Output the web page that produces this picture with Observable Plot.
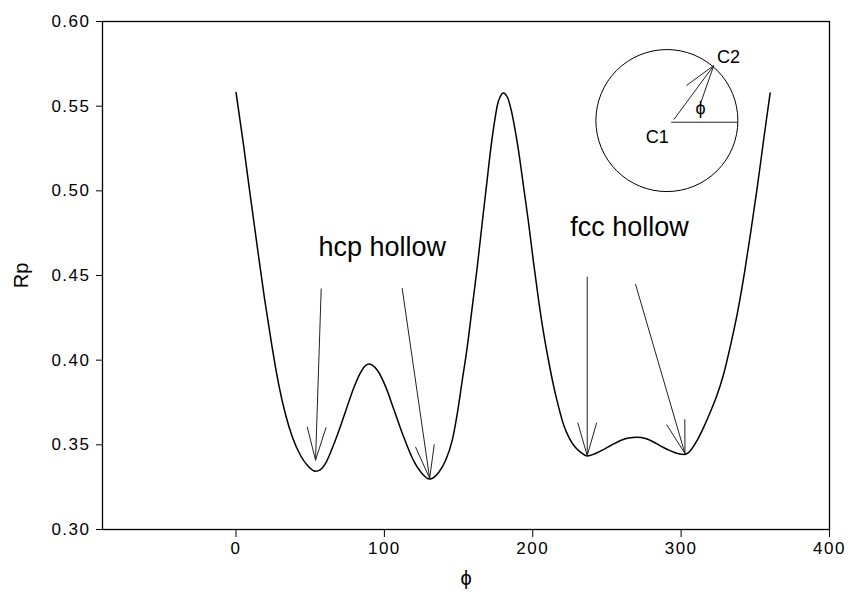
<!DOCTYPE html>
<html>
<head>
<meta charset="utf-8">
<script src="https://cdn.jsdelivr.net/npm/d3@7"></script>
<script src="https://cdn.jsdelivr.net/npm/@observablehq/plot@0.6"></script>
<style>
  html, body { margin: 0; padding: 0; background: #fff; }
  #chart svg [aria-label$="tick label"] text { letter-spacing: 1.5px; }
</style>
</head>
<body>
<div id="chart"></div>
<script>
// ---- data ----
const phi = [0, 5.05, 9.77, 14.49, 19.21, 23.93, 28.64, 33.36, 38.08, 43.47, 48.19, 53.58, 56.95, 60.32, 63.69, 68.41, 73.8, 79.19, 83.91, 86.61, 89.51, 92.0, 95.37, 100.76, 106.15, 112.89, 119.63, 125.03, 130.42, 136.69, 141.2, 145.72, 149.09, 152.46, 155.83, 159.2, 162.57, 165.94, 168.84, 171.53, 174.23, 176.25, 178.27, 180, 182.99, 185.68, 188.38, 190.4, 193.77, 197.14, 200.51, 203.88, 207.25, 210.62, 213.99, 217.36, 220.73, 224.78, 228.82, 232.86, 236.7, 242.29, 247.69, 253.08, 259.15, 264.54, 270.4, 276.0, 281.39, 286.78, 292.86, 297.57, 302.29, 306.33, 310.37, 315.09, 319.81, 323.85, 328.58, 333.29, 338.01, 342.73, 346.77, 351.49, 355.73, 360];
const rp  = [0.5581, 0.5271, 0.4961, 0.4659, 0.4364, 0.4098, 0.3862, 0.3679, 0.3543, 0.3437, 0.3378, 0.3344, 0.3354, 0.3390, 0.3455, 0.3561, 0.3697, 0.3833, 0.3927, 0.3963, 0.3977, 0.3969, 0.3939, 0.3845, 0.3715, 0.3549, 0.3407, 0.3334, 0.3298, 0.3338, 0.3407, 0.3526, 0.3683, 0.3880, 0.4077, 0.4313, 0.4549, 0.4813, 0.5032, 0.5238, 0.5409, 0.5510, 0.5560, 0.5578, 0.5551, 0.5469, 0.5345, 0.5238, 0.5026, 0.4813, 0.4577, 0.4358, 0.4163, 0.3998, 0.3850, 0.3726, 0.3620, 0.3537, 0.3484, 0.3452, 0.3434, 0.3449, 0.3472, 0.3499, 0.3526, 0.3540, 0.3545, 0.3537, 0.3517, 0.3490, 0.3464, 0.3449, 0.3443, 0.3467, 0.3520, 0.3602, 0.3697, 0.3785, 0.3915, 0.4087, 0.4282, 0.4518, 0.4748, 0.5032, 0.5309, 0.5578];

const xTicks = [0, 100, 200, 300, 400];
const yTicks = [0.30, 0.35, 0.40, 0.45, 0.50, 0.55, 0.60];
const xLabel = "ϕ";
const yLabel = "Rp";

// annotation arrows (data coordinates): start -> tip
const arrowPhiStart = [57.4, 112.0, 236.7, 269.3];
const arrowRpStart  = [0.4421, 0.4423, 0.4490, 0.4447];
const arrowPhiEnd   = [53.6, 130.5, 236.7, 302.6];
const arrowRpEnd    = [0.3410, 0.3302, 0.3436, 0.3448];

// annotation texts
const noteText = ["hcp hollow", "fcc hollow"];
const notePhi  = [98.5, 265.2];
const noteRp   = [0.4665, 0.4782];

// inset diagram (data coordinates)
const insetCenterPhi = 290.4, insetCenterRp = 0.5415;
const insetSegPhi1 = [293.3, 295.1, 322.0, 322.0];
const insetSegRp1  = [0.5405, 0.5421, 0.5740, 0.5740];
const insetSegPhi2 = [338.2, 322.0, 303.6, 312.6];
const insetSegRp2  = [0.5405, 0.5740, 0.5622, 0.5504];
const insetText = ["C2", "C1", "ϕ"];
const insetPhi  = [331.9, 283.9, 313.1];
const insetRp   = [0.5787, 0.5317, 0.5487];

// ---- tables built from the arrays ----
const curve = phi.map((p, i) => ({phi: p, rp: rp[i]}));
const arrows = arrowPhiStart.map((p, i) => ({x1: p, y1: arrowRpStart[i], x2: arrowPhiEnd[i], y2: arrowRpEnd[i]}));
const notes = noteText.map((t, i) => ({t, x: notePhi[i], y: noteRp[i]}));
const segs = insetSegPhi1.map((p, i) => ({x1: p, y1: insetSegRp1[i], x2: insetSegPhi2[i], y2: insetSegRp2[i]}));
const insetLabels = insetText.map((t, i) => ({t, x: insetPhi[i], y: insetRp[i]}));

const font = "'Liberation Sans', Arial, Helvetica, sans-serif";

const chart = Plot.plot({
  width: 850,
  height: 595,
  marginLeft: 102,
  marginRight: 21,
  marginTop: 21,
  marginBottom: 66,
  style: {fontFamily: font, fontSize: "17px", color: "black", background: "white"},
  x: {domain: [-90, 400]},
  y: {domain: [0.30, 0.60]},
  marks: [
    Plot.frame({stroke: "black", strokeWidth: 1.3}),
    Plot.axisX({ticks: xTicks, tickSize: 8, tickPadding: 4, label: null, fontSize: 17, tickFormat: d3.format("d")}),
    Plot.axisY({ticks: yTicks, tickSize: 6, tickPadding: 6, label: null, fontSize: 17, tickFormat: d3.format(".2f")}),
    Plot.line(curve, {x: "phi", y: "rp", curve: "monotone-x", stroke: "black", strokeWidth: 1.5}),
    Plot.arrow(arrows, {x1: "x1", y1: "y1", x2: "x2", y2: "y2", headAngle: 32, headLength: 51, stroke: "#222", strokeWidth: 1}),
    Plot.text(notes, {x: "x", y: "y", text: "t", fontSize: 27, textAnchor: "middle", fill: "black"}),
    Plot.dot([{x: insetCenterPhi, y: insetCenterRp}], {x: "x", y: "y", r: 71, stroke: "black", fill: "none", strokeWidth: 1}),
    Plot.link(segs, {x1: "x1", y1: "y1", x2: "x2", y2: "y2", stroke: "#222", strokeWidth: 1}),
    Plot.text(insetLabels, {x: "x", y: "y", text: "t", fontSize: 18, textAnchor: "middle", fill: "black"}),
    Plot.text([yLabel], {frameAnchor: "left", text: d => d, rotate: -90, dx: -81, fontSize: 20, textAnchor: "middle", fill: "black"}),
    Plot.text([xLabel], {frameAnchor: "bottom", text: d => d, dy: 55, fontSize: 20, textAnchor: "middle", fill: "black"})
  ]
});
document.getElementById("chart").appendChild(chart);
</script>
</body>
</html>
